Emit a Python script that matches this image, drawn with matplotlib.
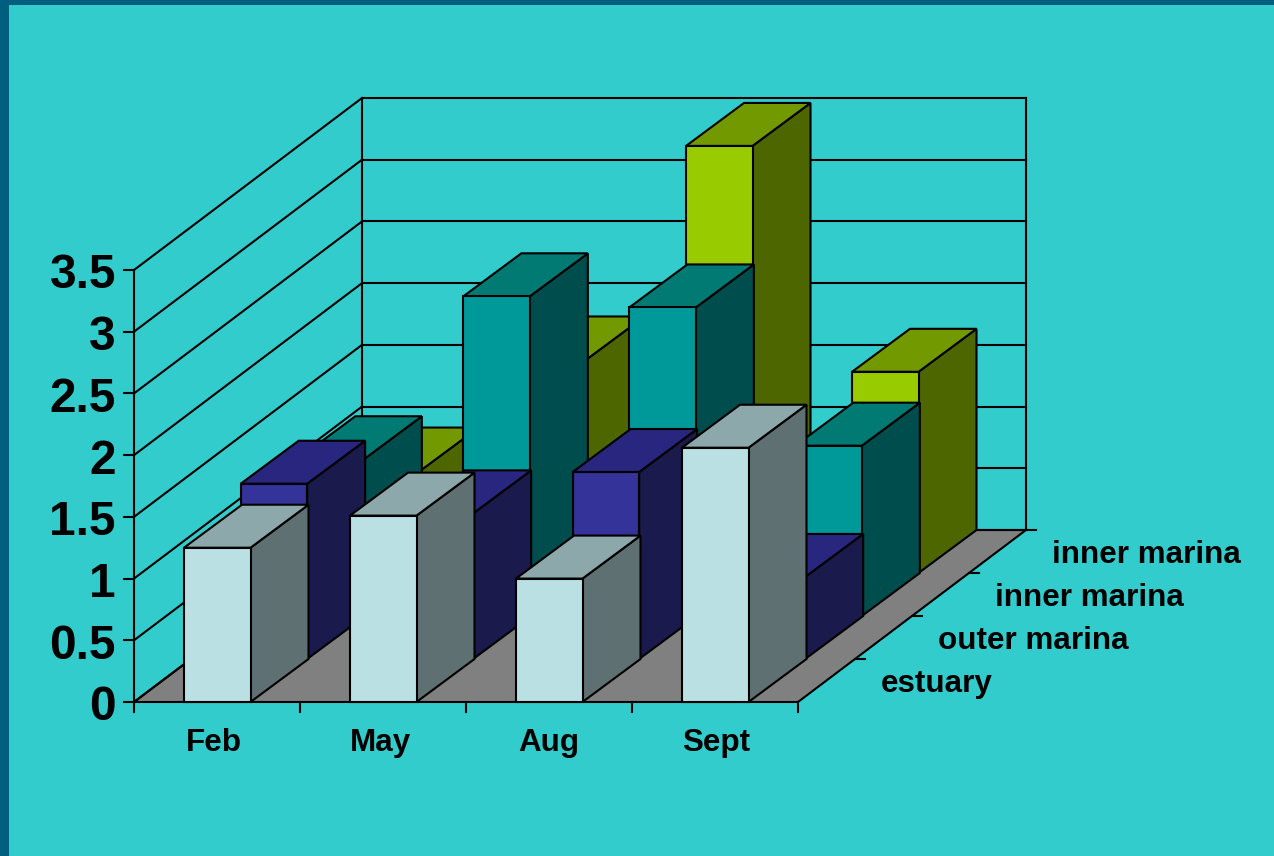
import matplotlib
matplotlib.use('Agg')
import matplotlib.pyplot as plt
from matplotlib.patches import Polygon, Rectangle

categories = ['Feb', 'May', 'Aug', 'Sept']
series_names = ['estuary', 'outer marina', 'inner marina', 'inner marina']
estuary = [1.25, 1.51, 1.0, 2.06]
outer_marina = [1.42, 1.18, 1.515, 0.665]
inner_marina_1 = [1.27, 2.59, 2.5, 1.38]
inner_marina_2 = [0.83, 1.73, 3.46, 1.63]
y_ticks = [0, 0.5, 1, 1.5, 2, 2.5, 3, 3.5]
y_tick_labels = ['0', '0.5', '1', '1.5', '2', '2.5', '3', '3.5']

# front, top, side colours per series
front_colors = ['#BBE0E3', '#333399', '#009999', '#99CC00']
top_colors = ['#8CA8AA', '#292680', '#007A73', '#739900']
side_colors = ['#5E7072', '#1A1A4D', '#004D4D', '#4D6600']
BG = '#33CCCC'
BORDER = '#005F7F'
FLOOR = '#808080'

# pixel sizes of one unit, used to set up the axes limits
PX_X = 166.0
PX_Y = 432 / 3.5
ORIGIN_X = 134
ORIGIN_Y = 702

# oblique depth, in data units
WALL_DX = 228 / PX_X
WALL_DY = 172 / PX_Y
STEP_DX = 56.67 / PX_X
STEP_DY = 43 / PX_Y
BAR_DX = 58 / PX_X
BAR_DY = 43 / PX_Y
BAR_OFFSET = 50 / PX_X
BAR_W = 66.5 / PX_X
LW = 1.5


def draw_walls(ax):
    n = len(categories)
    floor = [(0, 0), (n, 0), (n + WALL_DX, WALL_DY), (WALL_DX, WALL_DY)]
    ax.add_patch(Polygon(floor, facecolor=FLOOR, edgecolor='black', lw=LW, zorder=1))
    for v in y_ticks:
        ax.plot([0, WALL_DX], [v, v + WALL_DY], color='black', lw=LW, zorder=1)
        ax.plot([WALL_DX, n + WALL_DX], [v + WALL_DY, v + WALL_DY], color='black', lw=LW, zorder=1)
        ax.plot([-10 / PX_X, 0], [v, v], color='black', lw=LW, zorder=1)
    top = y_ticks[-1]
    ax.plot([0, 0], [0, top], color='black', lw=LW, zorder=1)
    ax.plot([WALL_DX, WALL_DX], [WALL_DY, top + WALL_DY], color='black', lw=LW, zorder=1)
    ax.plot([n + WALL_DX, n + WALL_DX], [WALL_DY, top + WALL_DY], color='black', lw=LW, zorder=1)
    for i in range(n + 1):
        ax.plot([i, i], [0, -10 / PX_Y], color='black', lw=LW, zorder=1)
    for s in range(1, 5):
        px = n + s * WALL_DX / 4
        py = s * WALL_DY / 4
        ax.plot([px, px + 10 / PX_X], [py, py], color='black', lw=LW, zorder=1)


def draw_bar(ax, x, base, value, s, z):
    x1 = x + BAR_W
    top = base + value
    kw = dict(edgecolor='black', lw=LW, joinstyle='miter', zorder=z)
    ax.add_patch(Polygon([(x1, base), (x1 + BAR_DX, base + BAR_DY), (x1 + BAR_DX, top + BAR_DY), (x1, top)],
                         facecolor=side_colors[s], **kw))
    ax.add_patch(Polygon([(x, top), (x1, top), (x1 + BAR_DX, top + BAR_DY), (x + BAR_DX, top + BAR_DY)],
                         facecolor=top_colors[s], **kw))
    ax.add_patch(Rectangle((x, base), BAR_W, value, facecolor=front_colors[s], **kw))


def main():
    fig = plt.figure(figsize=(12.74, 8.56), dpi=100, facecolor=BG)
    ax = fig.add_axes([0, 0, 1, 1])
    ax.set_xlim(-ORIGIN_X / PX_X, (1274 - ORIGIN_X) / PX_X)
    ax.set_ylim(-(856 - ORIGIN_Y) / PX_Y, ORIGIN_Y / PX_Y)
    ax.axis('off')
    plt.rcParams['font.family'] = ['Liberation Sans', 'DejaVu Sans']

    # dark slide edge on top and left
    ax.add_patch(Rectangle((0, 0), 8.5 / 1274, 1, transform=ax.transAxes, facecolor=BORDER, lw=0, zorder=0))
    ax.add_patch(Rectangle((0, 1 - 4.5 / 856), 1, 4.5 / 856, transform=ax.transAxes, facecolor=BORDER, lw=0, zorder=0))

    draw_walls(ax)

    all_series = [estuary, outer_marina, inner_marina_1, inner_marina_2]
    # back row first so the front rows cover it
    for s in range(len(all_series) - 1, -1, -1):
        for i, value in enumerate(all_series[s]):
            x = i + BAR_OFFSET + s * STEP_DX
            draw_bar(ax, x, s * STEP_DY, value, s, 10 + (3 - s))

    for v, label in zip(y_ticks, y_tick_labels):
        ax.text(-18 / PX_X, v - 6 / PX_Y, label, ha='right', va='center', fontsize=34.5, fontweight='bold', color='black', zorder=20)

    cat_x = [214, 380, 549, 716]
    for i, name in enumerate(categories):
        ax.text((cat_x[i] - ORIGIN_X) / PX_X, -41 / PX_Y, name, ha='center', va='center', fontsize=22.6, fontweight='bold', color='black', zorder=20)

    for s, name in enumerate(series_names):
        px = len(categories) + s * WALL_DX / 4 + 83 / PX_X
        py = s * WALL_DY / 4 + 18 / PX_Y
        ax.text(px, py, name, ha='left', va='center', fontsize=22.6, fontweight='bold', color='black', zorder=20)

    fig.savefig('out.png', dpi=100, facecolor=BG)


if __name__ == "__main__":
    main()
